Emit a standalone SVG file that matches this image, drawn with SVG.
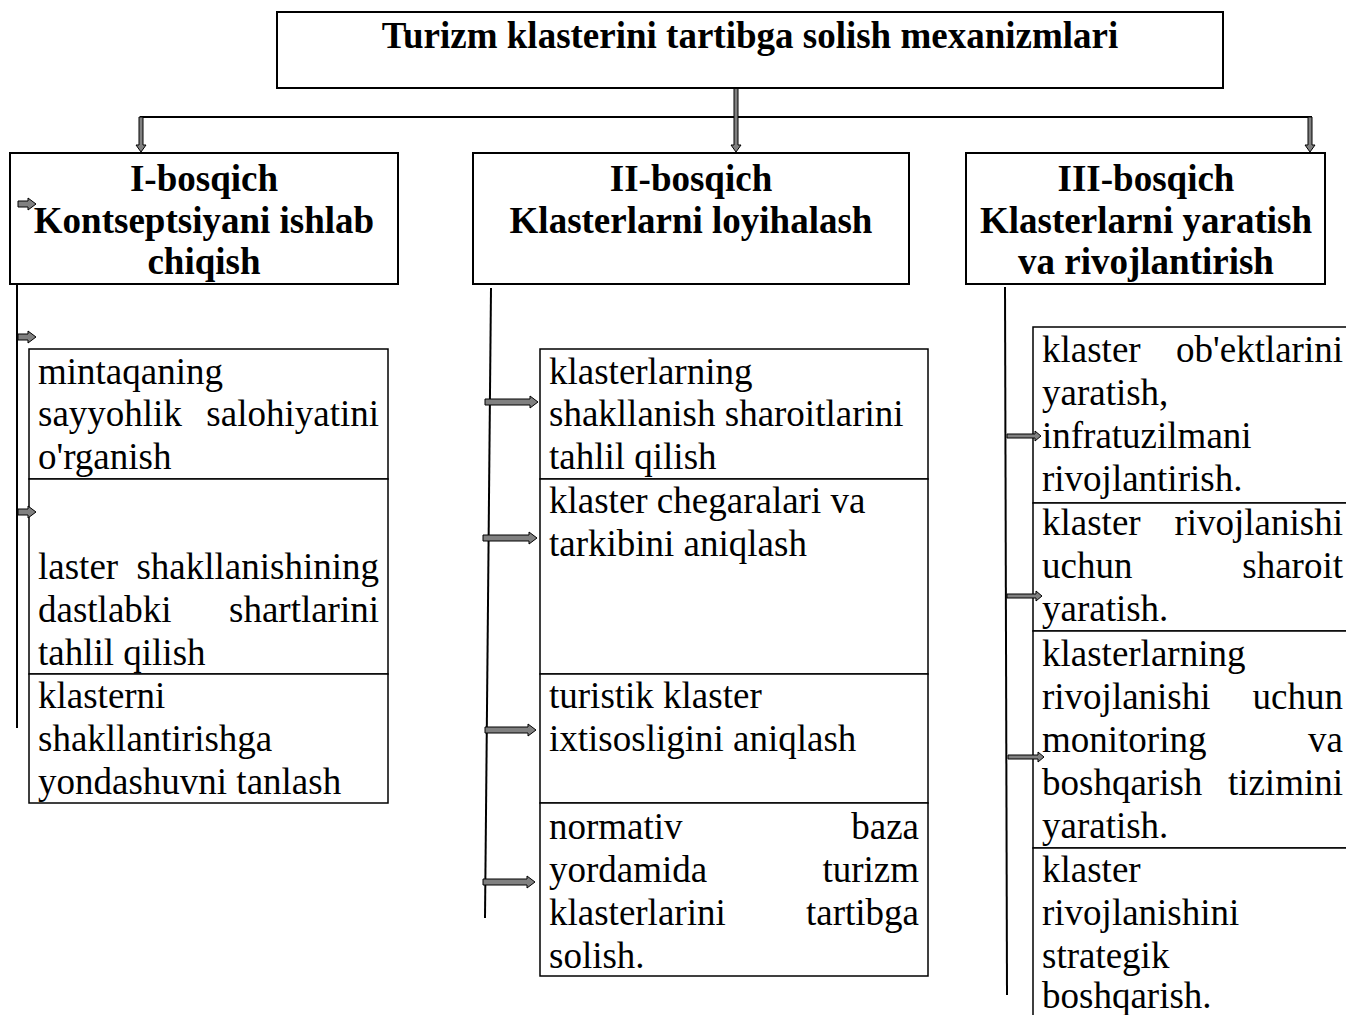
<svg xmlns="http://www.w3.org/2000/svg" width="1346" height="1015" viewBox="0 0 1346 1015">
<style>
.box{fill:#fff;stroke:#000;stroke-width:2}
.cell{fill:#fff;stroke:#000;stroke-width:1.5}
.h{font-family:"Liberation Serif","Times New Roman",serif;font-weight:bold;font-size:37px;text-anchor:middle}
.t{font-family:"Liberation Serif","Times New Roman",serif;font-size:37px}
.e{text-anchor:end}
.ln{stroke:#000;stroke-width:2;fill:none}
.ar{fill:#808080;stroke:#000;stroke-width:1}
</style>
<rect width="1346" height="1015" fill="#fff"/>
<g id="connectors">
<line class="ln" x1="140" y1="117" x2="1312" y2="117"/>
<path class="ar" d="M734 83 H738 V145 H741 L736 152 L731 145 H734 Z"/>
<path class="ar" d="M139 117 H143 V145 H146 L141 152 L136 145 H139 Z"/>
<path class="ar" d="M1308 117 H1312 V145 H1315 L1310 152 L1305 145 H1308 Z"/>
<line class="ln" x1="17" y1="284" x2="17" y2="728"/>
<line class="ln" x1="491" y1="288" x2="485" y2="918"/>
<line class="ln" x1="1005" y1="287" x2="1007" y2="995"/>
<path class="ar" d="M18 334 H28 V331 L36 337 L28 343 V340 H18 Z"/>
<path class="ar" d="M485 399 H530 V396 L538 402 L530 408 V405 H485 Z"/>
<path class="ar" d="M483 535 H529 V532 L537 538 L529 544 V541 H483 Z"/>
<path class="ar" d="M485 727 H528 V724 L536 730 L528 736 V733 H485 Z"/>
<path class="ar" d="M483 879 H527 V876 L535 882 L527 888 V885 H483 Z"/>
</g>
<g id="title">
<rect class="box" x="277" y="12" width="946" height="76"/>
<text class="h" x="750" y="48">Turizm klasterini tartibga solish mexanizmlari</text>
</g>
<g id="stage1">
<rect class="box" x="10" y="153" width="388" height="131"/>
<text class="h" x="204" y="191">I-bosqich</text>
<text class="h" x="204" y="233">Kontseptsiyani ishlab</text>
<text class="h" x="204" y="274">chiqish</text>
</g>
<g id="stage2">
<rect class="box" x="473" y="153" width="436" height="131"/>
<text class="h" x="691" y="191">II-bosqich</text>
<text class="h" x="691" y="233">Klasterlarni loyihalash</text>
</g>
<g id="stage3">
<rect class="box" x="966" y="153" width="359" height="131"/>
<text class="h" x="1146" y="191">III-bosqich</text>
<text class="h" x="1146" y="233">Klasterlarni yaratish</text>
<text class="h" x="1146" y="274">va rivojlantirish</text>
</g>
<path class="ar" d="M18 201 H28 V198 L36 204 L28 210 V207 H18 Z"/>
<g id="s1a">
<rect class="cell" x="29" y="349" width="359" height="130"/>
<text class="t" x="38" y="384">mintaqaning</text>
<text class="t" x="38" y="426">sayyohlik</text><text class="t e" x="379" y="426">salohiyatini</text>
<text class="t" x="38" y="469">o'rganish</text>
</g>
<g id="s1b">
<rect class="cell" x="29" y="479" width="359" height="195"/>
<text class="t" x="38" y="579">laster</text><text class="t e" x="379" y="579">shakllanishining</text>
<text class="t" x="38" y="622">dastlabki</text><text class="t e" x="379" y="622">shartlarini</text>
<text class="t" x="38" y="665">tahlil qilish</text>
</g>
<g id="s1c">
<rect class="cell" x="29" y="674" width="359" height="129"/>
<text class="t" x="38" y="708">klasterni</text>
<text class="t" x="38" y="751">shakllantirishga</text>
<text class="t" x="38" y="794">yondashuvni tanlash</text>
</g>
<path class="ar" d="M18 509 H28 V506 L36 512 L28 518 V515 H18 Z"/>
<g id="s2a">
<rect class="cell" x="540" y="349" width="388" height="130"/>
<text class="t" x="549" y="384">klasterlarning</text>
<text class="t" x="549" y="426">shakllanish sharoitlarini</text>
<text class="t" x="549" y="469">tahlil qilish</text>
</g>
<g id="s2b">
<rect class="cell" x="540" y="479" width="388" height="195"/>
<text class="t" x="549" y="513">klaster chegaralari va</text>
<text class="t" x="549" y="556">tarkibini aniqlash</text>
</g>
<g id="s2c">
<rect class="cell" x="540" y="674" width="388" height="129"/>
<text class="t" x="549" y="708">turistik klaster</text>
<text class="t" x="549" y="751">ixtisosligini aniqlash</text>
</g>
<g id="s2d">
<rect class="cell" x="540" y="803" width="388" height="173"/>
<text class="t" x="549" y="839">normativ</text><text class="t e" x="919" y="839">baza</text>
<text class="t" x="549" y="882">yordamida</text><text class="t e" x="919" y="882">turizm</text>
<text class="t" x="549" y="925">klasterlarini</text><text class="t e" x="919" y="925">tartibga</text>
<text class="t" x="549" y="968">solish.</text>
</g>
<g id="s3a">
<rect class="cell" x="1033" y="327" width="320" height="176"/>
<text class="t" x="1042" y="362">klaster</text><text class="t e" x="1343" y="362">ob'ektlarini</text>
<text class="t" x="1042" y="405">yaratish,</text>
<text class="t" x="1042" y="448">infratuzilmani</text>
<text class="t" x="1042" y="491">rivojlantirish.</text>
</g>
<g id="s3b">
<rect class="cell" x="1033" y="503" width="320" height="128"/>
<text class="t" x="1042" y="535">klaster</text><text class="t e" x="1343" y="535">rivojlanishi</text>
<text class="t" x="1042" y="578">uchun</text><text class="t e" x="1343" y="578">sharoit</text>
<text class="t" x="1042" y="621">yaratish.</text>
</g>
<g id="s3c">
<rect class="cell" x="1033" y="631" width="320" height="217"/>
<text class="t" x="1042" y="666">klasterlarning</text>
<text class="t" x="1042" y="709">rivojlanishi</text><text class="t e" x="1343" y="709">uchun</text>
<text class="t" x="1042" y="752">monitoring</text><text class="t e" x="1343" y="752">va</text>
<text class="t" x="1042" y="795">boshqarish</text><text class="t e" x="1343" y="795">tizimini</text>
<text class="t" x="1042" y="838">yaratish.</text>
</g>
<g id="s3d">
<rect class="cell" x="1033" y="848" width="320" height="180"/>
<text class="t" x="1042" y="882">klaster</text>
<text class="t" x="1042" y="925">rivojlanishini</text>
<text class="t" x="1042" y="968">strategik</text>
<text class="t" x="1042" y="1008">boshqarish.</text>
</g>
<g id="arrows-over">
<path class="ar" d="M1007 434 H1035 V431 L1041 436 L1035 441 V438 H1007 Z"/>
<path class="ar" d="M1007 594 H1036 V591 L1042 596 L1036 601 V598 H1007 Z"/>
<path class="ar" d="M1008 755 H1038 V752 L1044 757 L1038 762 V759 H1008 Z"/>
</g>
</svg>
